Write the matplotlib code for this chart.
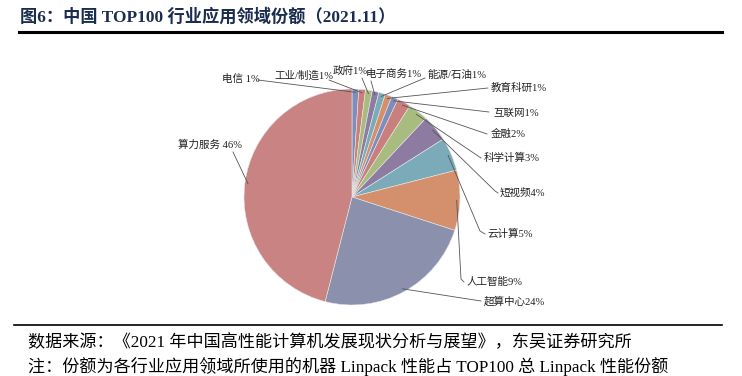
import numpy as np
import matplotlib.pyplot as plt

plt.rcParams['font.family'] = ['Liberation Serif', 'Noto Sans CJK SC']

# 行业应用领域份额 (%), clockwise from 12 o'clock
labels = ['电信 1%', '工业/制造1%', '政府1%', '电子商务1%', '能源/石油1%', '教育科研1%',
          '互联网1%', '金融2%', '科学计算3%', '短视频4%', '云计算5%', '人工智能9%',
          '超算中心24%', '算力服务 46%']
shares = [1, 1, 1, 1, 1, 1, 1, 2, 3, 4, 5, 9, 24, 46]
colors = ['#7f8dbb', '#c97f7c', '#a8bc80', '#8d7ba2', '#7baab8', '#d48f6c',
          '#7f8dbb', '#c97f7c', '#a8bc80', '#8d7ba2', '#7baab8', '#d48f6c',
          '#8b90ad', '#c98383']

# label positions in pixels (left x, centre y) and elbow/ending points
label_pos = [(222, 79), (274, 76), (333, 71), (366, 74), (427, 75), (491, 88),
             (493, 113), (491, 134), (484, 158), (500, 193), (487, 234), (466, 282),
             (484, 301), (178, 145)]
line_end = [[(258, 80)], [(329, 80)], [(362, 78)], [(371, 81)], [(425, 78)], [(488, 88)],
            [(489, 112)], [(487, 134)], [(481, 158)], [(495, 191), (498, 193)],
            [(480, 231), (485, 234)], [(461, 279), (464, 282)],
            [(481, 301)], [(233, 152)]]

W, H = 742, 376
fig = plt.figure(figsize=(W / 100, H / 100), dpi=100)
ax = fig.add_axes([0, 0, 1, 1])


def py(y):
    return H - y


cx, cy, r = 352, 197, 108
wedges, _ = ax.pie(shares, colors=colors, startangle=90, counterclock=False,
                   center=(cx, py(cy)), radius=r, frame=True,
                   wedgeprops=dict(edgecolor='#e8e8e8', linewidth=0.4))
ax.set_xlim(0, W)
ax.set_ylim(0, H)
ax.set_aspect('equal')
ax.axis('off')

for w, lab, (lx, ly), ends in zip(wedges, labels, label_pos, line_end):
    ang = np.deg2rad((w.theta1 + w.theta2) / 2)
    sx = cx + 0.97 * r * np.cos(ang)
    sy = py(cy) + 0.97 * r * np.sin(ang)
    xs = [sx] + [e[0] for e in ends]
    ys = [sy] + [py(e[1]) for e in ends]
    ax.plot(xs, ys, color='#555555', lw=0.6)
    ax.text(lx, py(ly), lab, fontsize=7.6, ha='left', va='center', color='#222222')

# title and rules
ax.text(20, py(17), '图6：中国 TOP100 行业应用领域份额（2021.11）', fontsize=12.4, fontweight='bold',
        color='#1b2d4f', ha='left', va='center')
ax.plot([19, 722], [py(32), py(32)], color='black', lw=2.2)
ax.plot([14, 722], [py(325), py(325)], color='black', lw=1.2)

ax.text(28, py(343), '数据来源：《2021 年中国高性能计算机发展现状分析与展望》，东吴证券研究所',
        fontsize=12.3, ha='left', va='center', color='black')
ax.text(28, py(366), '注：份额为各行业应用领域所使用的机器 Linpack 性能占 TOP100 总 Linpack 性能份额',
        fontsize=12.3, ha='left', va='center', color='black')

fig.savefig('out.png', dpi=100)
